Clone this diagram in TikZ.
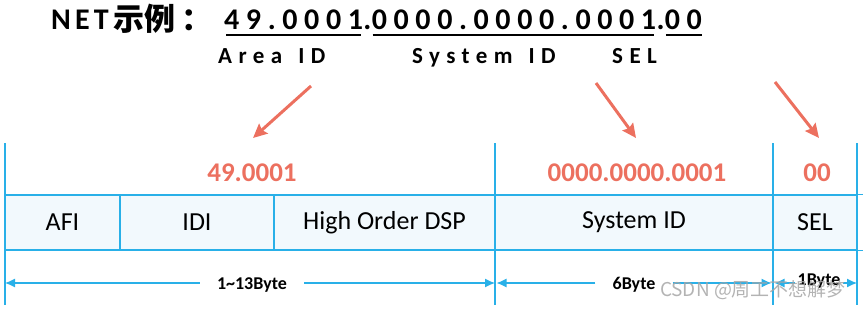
\documentclass[tikz,border=0pt]{standalone}
\usepackage{fontspec}
\setmainfont{Carlito}
\newfontfamily\cjkfont{Noto Sans CJK SC}
\newfontfamily\titlefont{Carlito}[LetterSpace=22]
\newfontfamily\netfont{Carlito}[LetterSpace=14]
\newfontfamily\subfont{Carlito}[LetterSpace=28]
\usetikzlibrary{arrows.meta,calc}
\definecolor{lineblue}{RGB}{41,176,232}
\definecolor{netred}{RGB}{236,112,95}
\definecolor{rowfill}{RGB}{242,249,253}
\begin{document}
\begin{tikzpicture}[x=1pt,y=-1pt,
  cell/.style={draw=lineblue, line width=1.2pt, fill=rowfill, minimum height=55pt, inner sep=0pt, text=black, font=\fontsize{26}{30}\selectfont},
  redlab/.style={text=netred, inner sep=0pt, anchor=base, font=\bfseries\fontsize{27}{30}\selectfont},
  dimlab/.style={inner xsep=17pt, inner ysep=0pt, anchor=base, font=\bfseries\fontsize{18}{21}\selectfont},
  dim/.style={draw=lineblue, line width=1.2pt, -{Latex[length=10pt,width=9pt]}},
  guide/.style={draw=lineblue, line width=1.2pt},
  callout/.style={draw=netred, line width=3pt, -{Stealth[length=14pt,width=13pt,inset=2pt]}},
  ttl/.style={inner sep=0pt, anchor=base west, font=\titlefont\bfseries\fontsize{30}{34}\selectfont},
  netttl/.style={inner sep=0pt, anchor=base west, font=\netfont\bfseries\fontsize{30}{34}\selectfont},
  cjkttl/.style={inner sep=0pt, anchor=base west, font=\cjkfont\bfseries\fontsize{31}{34}\selectfont},
  sub/.style={inner sep=0pt, anchor=base west, font=\subfont\bfseries\fontsize{23}{26}\selectfont},
  uline/.style={draw=black, line width=2.6pt},
  wm/.style={inner sep=0pt, anchor=base, text=black!35, opacity=0.85, font=\cjkfont\fontsize{19}{22}\selectfont}
]
\useasboundingbox (0,0) rectangle (865,309);

% title
\node[netttl] (net) at (51,29) {NET};
\node[cjkttl] (shili) at (113,30) {示例\kern6pt：};
\node[ttl] (g1) at (224,29) {49.0001};
\node[ttl] (p1) at (g1.base east) {.};
\node[ttl] (g2) at (p1.base east) {0000.0000.0001};
\node[ttl] (p2) at (g2.base east) {.};
\node[ttl] (g3) at (p2.base east) {00};
\draw[uline] ($(g1.base west)+(2,6)$) -- ($(g1.base east)+(-2,6)$);
\draw[uline] ($(g2.base west)+(1,6)$) -- ($(g2.base east)+(-2,6)$);
\draw[uline] ($(g3.base west)+(1,6)$) -- ($(g3.base east)+(0,6)$);
\node[sub] (area) at (218,63) {Area\kern16pt ID};
\node[sub] (sysid) at (412,63) {System\kern16pt ID};
\node[sub] (sel) at (612,63) {SEL};

% callout arrows
\coordinate (c1s) at (311,86);  \coordinate (c1e) at (253,138);
\coordinate (c2s) at (596,83);  \coordinate (c2e) at (636,138);
\coordinate (c3s) at (775,82);  \coordinate (c3e) at (819,138);
\draw[callout] (c1s) -- (c1e);
\draw[callout] (c2s) -- (c2e);
\draw[callout] (c3s) -- (c3e);

% vertical guides
\foreach \x in {5,495,773,857} \draw[guide] (\x,143) -- (\x,305);

% row cells
\node[cell, minimum width=115pt] (afi) at (62.5,222.5) {AFI};
\node[cell, minimum width=154pt] (idi) at (197,222.5) {IDI};
\node[cell, minimum width=221pt] (hod) at (384.5,222.5) {High Order DSP};
\node[cell, minimum width=278pt] (sys) at (634,222.5) {System ID};
\node[cell, minimum width=84pt] (selc) at (815,222.5) {SEL};
\draw[guide] (selc.north east) -- ++(5,0);
\draw[guide] (selc.south east) -- ++(5,0);

% red values
\node[redlab] (v1) at (252,181) {49.0001};
\node[redlab] (v2) at (637,181) {0000.0000.0001};
\node[redlab] (v3) at (817,181) {00};

% dimension lines
\coordinate (d0) at (5,283);
\coordinate (d1) at (495,283);
\coordinate (d2) at (773,283);
\coordinate (d3) at (857,283);
\node[dimlab] (b1) at (252,289) {1\char`~13Byte};
\node[dimlab] (b2) at (634,289) {6Byte};
\node[dimlab, inner xsep=2pt] (b3) at (819,285) {1Byte};
\draw[dim] (b1.west |- d0) -- (d0);
\draw[dim] (b1.east |- d0) -- (d1);
\draw[dim] (b2.west |- d0) -- ($(d1)+(1.5,0)$);
\draw[dim] (b2.east |- d0) -- ($(d2)+(-1.5,0)$);
\draw[dim] (b3.west |- d0) -- ($(d2)+(1.5,0)$);
\draw[dim] (b3.east |- d0) -- (d3);

% watermark
\node[wm] (mark) at (753,296) {CSDN @周工不想解梦};
\end{tikzpicture}
\end{document}
